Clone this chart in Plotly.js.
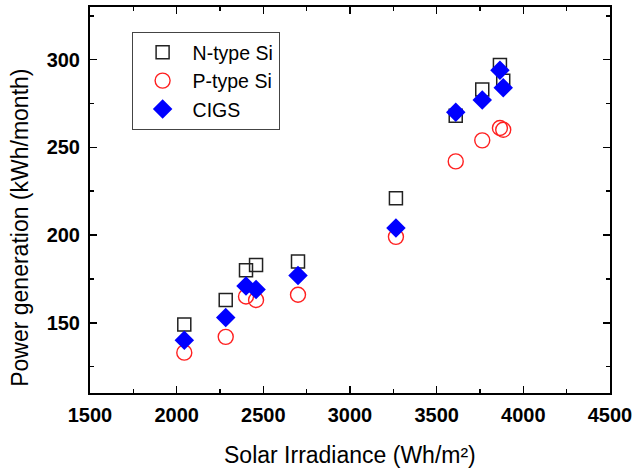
<!DOCTYPE html>
<html>
<head>
<meta charset="utf-8">
<script src="https://cdn.plot.ly/plotly-3.0.1.min.js"></script>
<style>html,body{margin:0;padding:0;background:#fff;}#chart{width:635px;height:468px;}</style>
</head>
<body>
<div id="chart"></div>
<script>
// Solar irradiance (Wh/m^2) per month
const irradianceX = [2044, 2283, 2400, 2458, 2700, 3265, 3610, 3763, 3865, 3884];
// Power generation (kWh/month)
const nTypeSi = [149, 163, 180, 183, 185, 221, 268, 283, 297, 288];
const pTypeSi = [133, 142, 165, 163, 166, 199, 242, 254, 261, 260];
const cigs    = [140, 153, 171, 169, 177, 204, 270, 277, 294, 284];
const seriesNames = ["N-type Si", "P-type Si", "CIGS"];

const font = "Arial, 'Liberation Sans', Helvetica, sans-serif";

const traces = [
  {x: irradianceX, y: nTypeSi, name: seriesNames[0], type: "scatter", mode: "markers",
   marker: {symbol: "square-open", size: 13, color: "#222222", line: {width: 1.5, color: "#222222"}}},
  {x: irradianceX, y: pTypeSi, name: seriesNames[1], type: "scatter", mode: "markers",
   marker: {symbol: "circle-open", size: 15, color: "#ff2020", line: {width: 1.4, color: "#ff2020"}}},
  {x: irradianceX, y: cigs, name: seriesNames[2], type: "scatter", mode: "markers",
   marker: {symbol: "diamond", size: 15, color: "#0000ff", line: {width: 0}}}
];

const axisCommon = {
  showgrid: false, zeroline: false, showline: true, mirror: "ticks",
  linecolor: "#000", linewidth: 2, ticks: "inside", ticklen: 7, tickwidth: 1.5, tickcolor: "#000",
  tickfont: {family: font, size: 20, color: "#000", weight: "bold"},
  minor: {ticks: "inside", ticklen: 4, tickwidth: 1.5, tickcolor: "#000", showgrid: false}
};

const layout = {
  width: 635, height: 468,
  margin: {l: 90, r: 25, t: 7, b: 75},
  paper_bgcolor: "#fff", plot_bgcolor: "#fff",
  showlegend: true,
  xaxis: Object.assign({}, axisCommon, {
    range: [1500, 4500], dtick: 500, tick0: 1500, ticklabelstandoff: 3,
    minor: Object.assign({}, axisCommon.minor, {dtick: 250})
  }),
  yaxis: Object.assign({}, axisCommon, {
    range: [110, 330], dtick: 50, tick0: 150, ticklabelstandoff: 4,
    minor: Object.assign({}, axisCommon.minor, {dtick: 25})
  }),
  legend: {
    x: 0.08, y: 0.935, xanchor: "left", yanchor: "top",
    bgcolor: "#fff", bordercolor: "#444", borderwidth: 1,
    font: {family: font, size: 19.5, color: "#000"},
    itemwidth: 50, tracegroupgap: 0
  },
  annotations: [
    {text: "Solar Irradiance (Wh/m²)", xref: "paper", yref: "paper",
     x: 0.5, y: -0.161, xanchor: "center", yanchor: "middle", showarrow: false,
     font: {family: font, size: 23, color: "#000"}},
    {text: "Power generation (kWh/month)", xref: "paper", yref: "paper",
     x: -0.1346, y: 0.428, xanchor: "center", yanchor: "middle", showarrow: false, textangle: -90,
     font: {family: font, size: 23, color: "#000"}}
  ]
};

Plotly.newPlot("chart", traces, layout, {staticPlot: true, displayModeBar: false});
</script>
</body>
</html>
